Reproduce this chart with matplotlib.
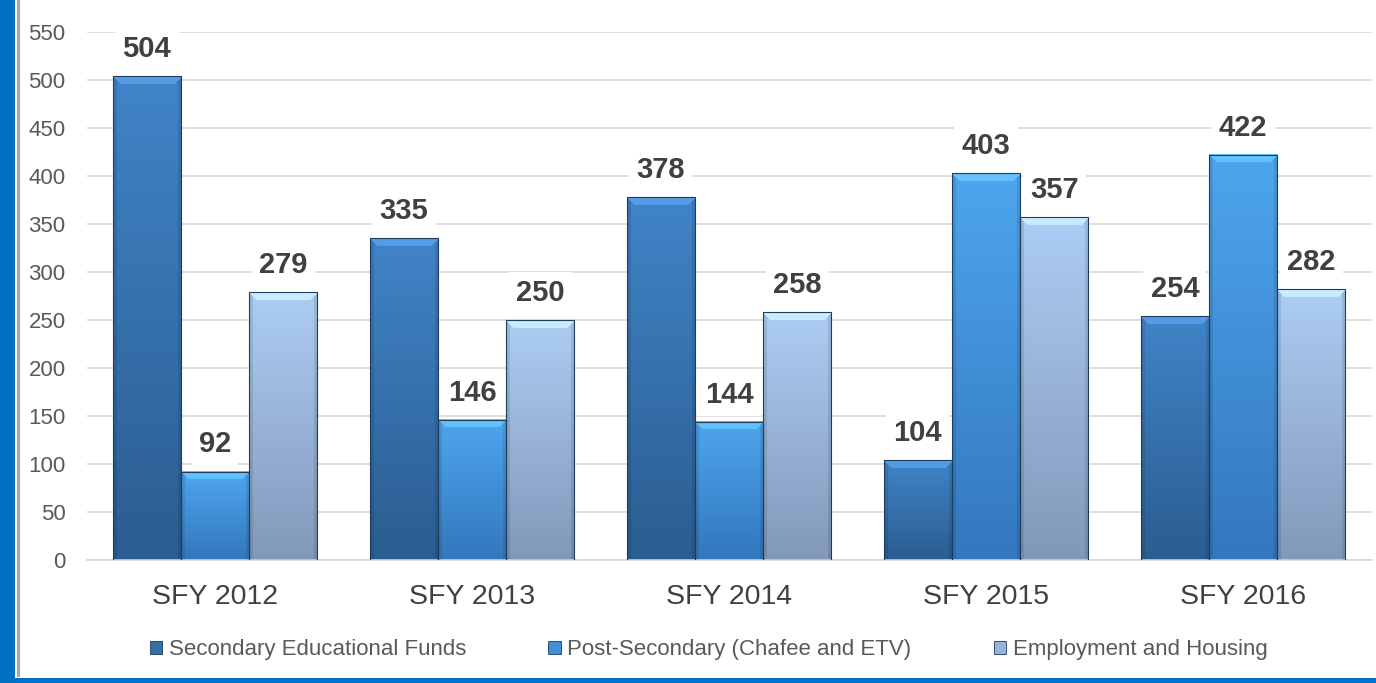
import numpy as np
import matplotlib
matplotlib.use("Agg")
import matplotlib.pyplot as plt
from matplotlib.patches import Patch, Rectangle
from matplotlib.colors import to_rgb

categories = ["SFY 2012", "SFY 2013", "SFY 2014", "SFY 2015", "SFY 2016"]
series_names = ["Secondary Educational Funds", "Post-Secondary (Chafee and ETV)", "Employment and Housing"]
secondary = [504, 335, 378, 104, 254]
post_secondary = [92, 146, 144, 403, 422]
employment = [279, 250, 258, 357, 282]
yticks = list(range(0, 551, 50))

series = [secondary, post_secondary, employment]
top_colors = ["#4084C8", "#4EA6EE", "#ADCDF4"]
bot_colors = ["#2B5D90", "#3377BD", "#8298B9"]
mid_colors = ["#3670AA", "#3F8FD6", "#98B3D8"]

plt.rcParams['font.family'] = ['Liberation Sans', 'DejaVu Sans']

fig = plt.figure(figsize=(13.76, 6.83), dpi=100)
ax = fig.add_axes([86.5/1376, 123/683, (1371.5-86.5)/1376, 528/683])

x = np.arange(len(categories))
w = 0.265
offsets = [-w, 0, w]


def bar_image(top, bot, hpx, wpx=68):
    t = np.array(to_rgb(top)); b = np.array(to_rgb(bot))
    n = max(int(hpx), 4)
    f = np.linspace(0, 1, n)[:, None]
    col = t[None, :] * (1 - f) + b[None, :] * f
    img = np.repeat(col[:, None, :], wpx, axis=1)
    bev = 8
    rows = np.arange(n)[:, None]
    cols = np.arange(wpx)[None, :]
    topmask = (rows < bev) & (cols >= rows) & (cols < wpx - rows)
    img = np.where(topmask[..., None], np.clip(img * 1.08 + 0.06, 0, 1), img)
    side = ((cols < 4) | (cols >= wpx - 4)) & ~topmask
    img = np.where(side[..., None], img * 0.9, img)
    return img

for i, vals in enumerate(series):
    bars = ax.bar(x + offsets[i], vals, width=w, facecolor='none',
                  edgecolor='#1E3C5C', linewidth=0.8, zorder=3)
    for p, v in zip(bars.patches, vals):
        x0, y0 = p.get_x(), p.get_y()
        pw, ph = p.get_width(), p.get_height()
        img = bar_image(top_colors[i], bot_colors[i], ph * 0.96)
        ax.imshow(img, extent=[x0, x0 + pw, y0, y0 + ph], aspect='auto',
                  zorder=2, interpolation='bilinear')
        ax.annotate(str(v), (x0 + pw / 2, y0 + ph), xytext=(0, 9.5),
                    textcoords='offset points', ha='center', va='bottom',
                    fontsize=21, fontweight='bold', color='#404040', zorder=5,
                    bbox=dict(boxstyle='square,pad=0.25', fc='white', ec='none'))

ax.set_xlim(-0.5, len(categories) - 0.5)
ax.set_ylim(0, 550)
ax.set_yticks(yticks)
ax.set_yticklabels([str(t) for t in yticks], fontsize=16, color='#595959')
ax.set_xticks(x)
ax.set_xticklabels(categories, fontsize=20.5, color='#404040')
ax.tick_params(axis='y', length=0, pad=15)
ax.tick_params(axis='x', length=0, pad=17)
ax.grid(axis='y', color='#D9D9D9', linewidth=1.2, zorder=0)
ax.set_axisbelow(True)
for s in ['left', 'right', 'top']:
    ax.spines[s].set_visible(False)
ax.spines['bottom'].set_color('#D9D9D9')
ax.spines['bottom'].set_linewidth(1.2)

handles = [Patch(facecolor=mid_colors[i], edgecolor='#1E3C5C', linewidth=0.6, label=series_names[i])
           for i in range(3)]
fig.legend(handles=handles, loc='center', bbox_to_anchor=(0.515, 1 - 650/683), ncol=3,
           frameon=False, fontsize=16, handlelength=0.55, handleheight=0.55,
           handletextpad=0.3, columnspacing=3.7, labelcolor='#595959')

# chart frame
fig.patches.append(Rectangle((0, 0), 15/1376, 1, transform=fig.transFigure,
                             facecolor='#0070C0', edgecolor='none', zorder=0))
fig.patches.append(Rectangle((0, 0), 1, 5/683, transform=fig.transFigure,
                             facecolor='#0070C0', edgecolor='none', zorder=0))
fig.patches.append(Rectangle((17/1376, 6/683), 3/1376, 1, transform=fig.transFigure,
                             facecolor='#A6A6A6', edgecolor='none', zorder=0))

fig.savefig("out.png", dpi=100)
